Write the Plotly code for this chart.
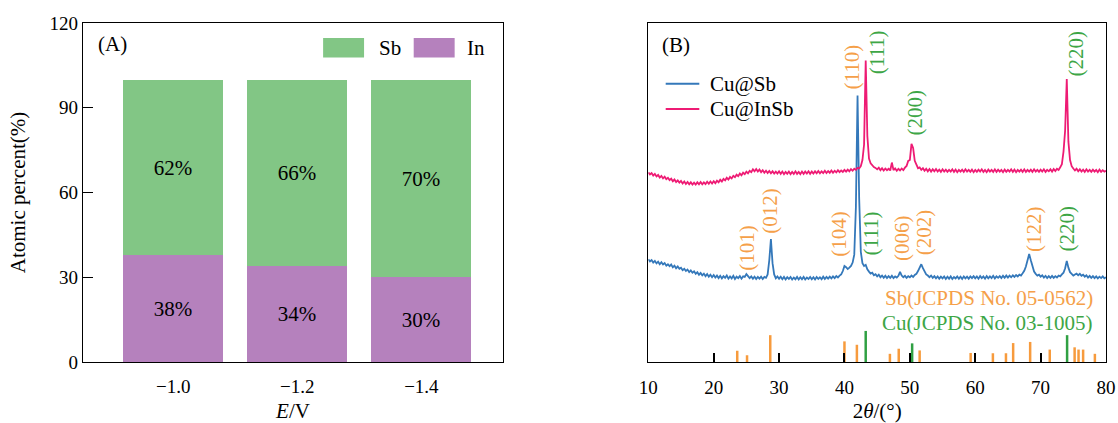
import plotly.graph_objects as go

# ---------------- Panel A data ----------------
potentials = ["−1.0", "−1.2", "−1.4"]
in_pct = [38, 34, 30]
sb_pct = [62, 66, 70]

# ---------------- Panel B data ----------------
# XRD scan: 10-80 deg, step 0.25 deg (281 points)
two_theta = [10 + 0.25 * i for i in range(281)]

cu_sb = [
    36.4, 35.6, 36.1, 35.2, 35.8, 34.9, 35.5, 34.6, 35.3, 34.5, 35.0, 34.1, 34.6, 33.9, 34.5, 33.5, 34.1, 33.2, 33.8, 33.0,
    33.4, 32.5, 33.0, 32.2, 32.7, 31.8, 32.4, 31.6, 32.1, 31.2, 31.8, 30.9, 31.5, 30.7, 31.3, 30.4, 31.1, 30.2, 30.9, 30.0,
    30.8, 29.9, 30.6, 29.7, 30.5, 29.6, 30.4, 29.8, 30.6, 29.5, 30.3, 29.6, 30.5, 29.4, 30.2, 29.7, 30.4, 29.5, 30.3, 30.1,
    31.1, 30.4, 29.7, 30.3, 29.5, 30.2, 29.4, 30.1, 29.5, 30.2, 29.4, 30.1, 29.8, 31.0, 36.0, 43.5, 35.0, 31.0, 29.6, 30.3,
    29.5, 30.2, 29.3, 30.1, 29.2, 30.0, 29.4, 30.1, 29.2, 29.9, 29.3, 30.1, 29.2, 30.0, 29.3, 30.1, 29.2, 29.9, 29.4, 30.1,
    29.3, 30.0, 29.2, 30.1, 29.4, 30.0, 29.3, 30.2, 29.4, 30.1, 29.5, 30.2, 29.6, 30.3, 29.7, 30.4, 29.9, 30.6, 31.0, 32.2,
    34.0, 33.6, 32.9, 33.4, 34.0, 35.2, 38.0, 55.0, 94.3, 58.0, 39.0, 35.0, 34.0, 34.4, 32.8, 32.0, 31.3, 31.6, 30.7, 31.1,
    30.3, 30.9, 30.0, 30.6, 29.8, 30.5, 29.7, 30.4, 29.8, 30.5, 29.7, 30.3, 29.9, 30.5, 31.9, 30.6, 30.0, 30.5, 29.8, 30.4,
    30.0, 30.6, 30.1, 30.8, 31.2, 32.2, 33.4, 34.6, 33.2, 31.8, 31.0, 30.6, 30.0, 30.6, 29.8, 30.4, 29.6, 30.3, 29.5, 30.2,
    29.6, 30.3, 29.4, 30.2, 29.5, 30.3, 29.4, 30.1, 29.6, 30.3, 29.5, 30.2, 29.4, 30.3, 29.6, 30.2, 29.5, 30.3, 29.7, 30.4,
    29.6, 30.3, 29.5, 30.4, 29.7, 30.3, 29.5, 30.4, 29.6, 30.3, 29.7, 30.5, 29.6, 30.3, 29.8, 30.4, 29.7, 30.5, 29.8, 30.6,
    29.9, 30.6, 30.0, 30.7, 30.1, 30.8, 30.3, 30.9, 30.6, 31.4, 32.3, 33.8, 35.8, 38.2, 36.0, 33.6, 32.0, 31.2, 30.6, 30.9,
    30.2, 30.7, 29.9, 30.5, 29.7, 30.4, 29.8, 30.5, 29.8, 30.4, 29.9, 30.6, 30.3, 31.0, 31.6, 33.2, 35.8, 33.4, 31.8, 31.2,
    30.6, 31.0, 31.3, 30.7, 31.2, 30.5, 30.9, 30.2, 30.7, 29.9, 30.5, 29.8, 30.4, 29.7, 30.3, 29.6, 30.2, 29.7, 30.3, 29.6,
    30.0,
]

cu_insb = [
    67.1, 66.4, 66.9, 66.0, 66.6, 65.7, 66.2, 65.3, 65.9, 65.0, 65.6, 64.7, 65.2, 64.4, 64.9, 64.0, 64.6, 63.7, 64.3, 63.5,
    64.1, 63.2, 63.9, 63.0, 63.7, 62.9, 63.6, 62.8, 63.5, 62.8, 63.6, 62.9, 63.7, 62.9, 63.6, 63.0, 63.8, 63.1, 63.9, 63.2,
    64.0, 63.3, 64.2, 63.6, 64.5, 63.9, 64.8, 64.3, 65.2, 64.6, 65.5, 65.0, 65.9, 65.4, 66.3, 65.8, 66.7, 66.1, 67.0, 66.5,
    67.4, 66.8, 67.7, 67.2, 68.2, 67.5, 68.3, 67.4, 68.1, 67.2, 67.9, 67.0, 67.7, 66.9, 67.6, 66.8, 67.5, 66.7, 67.4, 66.7,
    67.5, 66.6, 67.4, 66.5, 67.3, 66.6, 67.4, 66.5, 67.3, 66.6, 67.5, 66.6, 67.3, 66.5, 67.4, 66.6, 67.4, 66.7, 67.5, 66.6,
    67.4, 66.7, 67.5, 66.8, 67.6, 66.8, 67.5, 66.9, 67.7, 66.9, 67.6, 67.0, 67.8, 67.0, 67.7, 67.1, 67.9, 67.2, 67.8, 67.3,
    68.0, 67.4, 68.1, 67.5, 68.3, 67.7, 68.4, 68.0, 68.7, 68.5, 69.3, 71.5, 77.0, 106.7, 80.0, 72.0, 70.3, 69.6, 69.0, 68.7,
    68.2, 68.8, 67.9, 68.6, 67.8, 68.5, 67.9, 68.4, 67.8, 70.6, 67.9, 68.5, 67.7, 68.4, 67.8, 68.5, 67.9, 68.8, 69.4, 71.2,
    71.5, 77.2, 75.8, 71.2, 69.6, 68.6, 68.9, 68.0, 68.6, 67.7, 68.4, 67.5, 68.3, 67.4, 68.2, 67.5, 68.3, 67.4, 68.1, 67.3,
    68.2, 67.4, 68.1, 67.3, 68.0, 67.4, 68.2, 67.3, 68.1, 67.2, 68.0, 67.4, 68.1, 67.3, 68.2, 67.4, 68.0, 67.3, 68.1, 67.2,
    68.0, 67.3, 68.1, 67.4, 68.2, 67.3, 68.0, 67.2, 68.1, 67.4, 68.0, 67.3, 68.2, 67.3, 68.1, 67.4, 68.0, 67.2, 68.1, 67.3,
    68.0, 67.4, 68.2, 67.3, 68.1, 67.2, 68.0, 67.4, 68.1, 67.3, 68.2, 67.3, 68.0, 67.4, 68.1, 67.3, 68.2, 67.4, 68.0, 67.3,
    68.1, 67.4, 68.2, 67.3, 68.0, 67.5, 68.2, 67.4, 68.3, 67.6, 68.4, 68.0, 68.9, 70.0, 74.5, 82.0, 100.2, 78.0, 71.5, 69.3,
    68.5, 67.8, 68.4, 67.5, 68.2, 67.4, 68.1, 67.3, 68.2, 67.4, 68.0, 67.3, 68.1, 67.4, 68.0, 67.2, 68.1, 67.3, 67.9, 67.4,
    67.7,
]

# reference patterns (stick positions and heights)
sb_ref_x = [23.6, 25.1, 28.65, 40.0, 41.9, 46.95, 48.3, 51.5, 59.3, 62.7, 64.7, 65.8, 68.4, 71.4, 75.2, 75.8, 76.5, 78.3]
sb_ref_h = [4.0, 2.4, 9.5, 7.3, 6.1, 2.9, 4.7, 4.1, 3.2, 3.1, 3.1, 6.7, 7.1, 4.4, 5.2, 4.4, 4.4, 2.9]
cu_ref_x = [43.25, 50.35, 74.05]
cu_ref_h = [11.0, 6.6, 9.5]

# peak labels
sb_labels = ["(101)", "(012)", "(104)", "(110)", "(006)", "(202)", "(122)"]
sb_label_x = [25.1, 28.5, 39.2, 41.2, 48.7, 52.1, 68.9]
sb_label_y = [40.5, 53.6, 45.5, 104.4, 44.0, 45.8, 47.2]
cu_labels = ["(111)", "(200)", "(220)", "(111)", "(220)"]
cu_label_x = [44.9, 50.85, 75.4, 44.2, 74.0]
cu_label_y = [109.8, 88.5, 109.2, 45.5, 47.2]

FONT = "Liberation Serif, Times New Roman, serif"
GREEN_BAR = "#82C685"
PURPLE_BAR = "#B581BD"
BLUE = "#3478BA"
PINK = "#EE1B74"
ORANGE_TXT = "#F5A049"
GREEN_TXT = "#3DA646"
ORANGE_STICK = "#F79B3D"
GREEN_STICK = "#30A043"

fig = go.Figure()

# Panel A: stacked bars
fig.add_trace(go.Bar(x=potentials, y=in_pct, name="In", marker=dict(color=PURPLE_BAR, line=dict(width=0)),
                     width=0.805, text=[f"{v}%" for v in in_pct], textposition="inside",
                     insidetextanchor="middle", textangle=0,
                     textfont=dict(family=FONT, size=21, color="black"),
                     xaxis="x", yaxis="y", showlegend=False))
fig.add_trace(go.Bar(x=potentials, y=sb_pct, name="Sb", marker=dict(color=GREEN_BAR, line=dict(width=0)),
                     width=0.805, text=[f"{v}%" for v in sb_pct], textposition="inside",
                     insidetextanchor="middle", textangle=0,
                     textfont=dict(family=FONT, size=21, color="black"),
                     xaxis="x", yaxis="y", showlegend=False))

# Panel B: reference sticks
def sticks(xs, hs):
    px, py = [], []
    for xv, hv in zip(xs, hs):
        px += [xv, xv, None]
        py += [0, hv, None]
    return px, py

sx, sy = sticks(sb_ref_x, sb_ref_h)
fig.add_trace(go.Scatter(x=sx, y=sy, mode="lines", line=dict(color=ORANGE_STICK, width=2.5),
                         xaxis="x2", yaxis="y2", showlegend=False, name="Sb ref"))
cx, cy = sticks(cu_ref_x, cu_ref_h)
fig.add_trace(go.Scatter(x=cx, y=cy, mode="lines", line=dict(color=GREEN_STICK, width=2.5),
                         xaxis="x2", yaxis="y2", showlegend=False, name="Cu ref"))

# Panel B: XRD curves
fig.add_trace(go.Scatter(x=two_theta, y=cu_sb, mode="lines", line=dict(color=BLUE, width=1.8),
                         name="Cu@Sb", xaxis="x2", yaxis="y2", showlegend=False))
fig.add_trace(go.Scatter(x=two_theta, y=cu_insb, mode="lines", line=dict(color=PINK, width=1.8),
                         name="Cu@InSb", xaxis="x2", yaxis="y2", showlegend=False))

annotations = []
shapes = []

# Panel A label & legend
annotations.append(dict(text="(A)", x=-0.622, y=112.6, xref="x", yref="y", xanchor="left", yanchor="middle",
                        showarrow=False, font=dict(family=FONT, size=21, color="black")))
shapes.append(dict(type="rect", xref="x", yref="y", x0=1.208, x1=1.538, y0=107.8, y1=114.7,
                   fillcolor=GREEN_BAR, line=dict(width=0)))
shapes.append(dict(type="rect", xref="x", yref="y", x0=1.938, x1=2.268, y0=107.8, y1=114.7,
                   fillcolor=PURPLE_BAR, line=dict(width=0)))
annotations.append(dict(text="Sb", x=1.645, y=111.3, xref="x", yref="y", xanchor="left", yanchor="middle",
                        showarrow=False, font=dict(family=FONT, size=21, color="black")))
annotations.append(dict(text="In", x=2.355, y=111.3, xref="x", yref="y", xanchor="left", yanchor="middle",
                        showarrow=False, font=dict(family=FONT, size=21, color="black")))

# Panel B label & legend
annotations.append(dict(text="(B)", x=11.8, y=112.3, xref="x2", yref="y2", xanchor="left", yanchor="middle",
                        showarrow=False, font=dict(family=FONT, size=21, color="black")))
for name, col, yv in [("Cu@Sb", BLUE, 98.5), ("Cu@InSb", PINK, 89.6)]:
    shapes.append(dict(type="line", xref="x2", yref="y2", x0=12.66, x1=17.8, y0=yv, y1=yv,
                       line=dict(color=col, width=2)))
    annotations.append(dict(text=name, x=19.1, y=yv, xref="x2", yref="y2", xanchor="left", yanchor="middle",
                            showarrow=False, font=dict(family=FONT, size=21, color="black")))

for t, xv, yv in zip(sb_labels, sb_label_x, sb_label_y):
    annotations.append(dict(text=t, x=xv, y=yv, xref="x2", yref="y2", textangle=-90, showarrow=False,
                            xanchor="center", yanchor="middle", font=dict(family=FONT, size=21, color=ORANGE_TXT)))
for t, xv, yv in zip(cu_labels, cu_label_x, cu_label_y):
    annotations.append(dict(text=t, x=xv, y=yv, xref="x2", yref="y2", textangle=-90, showarrow=False,
                            xanchor="center", yanchor="middle", font=dict(family=FONT, size=21, color=GREEN_TXT)))

annotations.append(dict(text="Sb(JCPDS No. 05-0562)", x=78.3, y=22.5, xref="x2", yref="y2", xanchor="right",
                        yanchor="middle", showarrow=False, font=dict(family=FONT, size=21, color=ORANGE_TXT)))
annotations.append(dict(text="Cu(JCPDS No. 03-1005)", x=78.3, y=13.8, xref="x2", yref="y2", xanchor="right",
                        yanchor="middle", showarrow=False, font=dict(family=FONT, size=21, color=GREEN_TXT)))

axis_common = dict(showline=True, mirror=True, linecolor="black", linewidth=1.3, showgrid=False,
                   zeroline=False, automargin=False, tickfont=dict(family=FONT, size=19, color="black"))

fig.update_layout(
    width=1118, height=423,
    margin=dict(l=83, r=12, t=23, b=61, pad=0, autoexpand=False),
    paper_bgcolor="white", plot_bgcolor="white",
    barmode="stack", bargap=0,
    font=dict(family=FONT, color="black"),
    xaxis=dict(domain=[0, 0.4106], type="category", range=[-0.727, 2.658], ticks="",
               ticklabelstandoff=7,
               title=dict(text="<i>E</i>/V", font=dict(family=FONT, size=21), standoff=10),
               **axis_common),
    yaxis=dict(range=[0, 120], tickvals=[0, 30, 60, 90, 120], ticks="inside", ticklen=10,
               tickcolor="black", tickwidth=1.3,
               title=dict(text="Atomic percent(%)", font=dict(family=FONT, size=21), standoff=18),
               **axis_common),
    xaxis2=dict(domain=[0.5526, 1], range=[10, 80], tickvals=[10, 20, 30, 40, 50, 60, 70, 80],
                ticks="inside", ticklen=9, tickcolor="black", tickwidth=1.5, anchor="y2",
                ticklabelstandoff=8,
                title=dict(text="2<i>θ</i>/(°)", font=dict(family=FONT, size=21), standoff=10),
                **axis_common),
    yaxis2=dict(range=[0, 120], showticklabels=False, ticks="", anchor="x2", **axis_common),
    annotations=annotations,
    shapes=shapes,
)

fig.write_html("out.html")
